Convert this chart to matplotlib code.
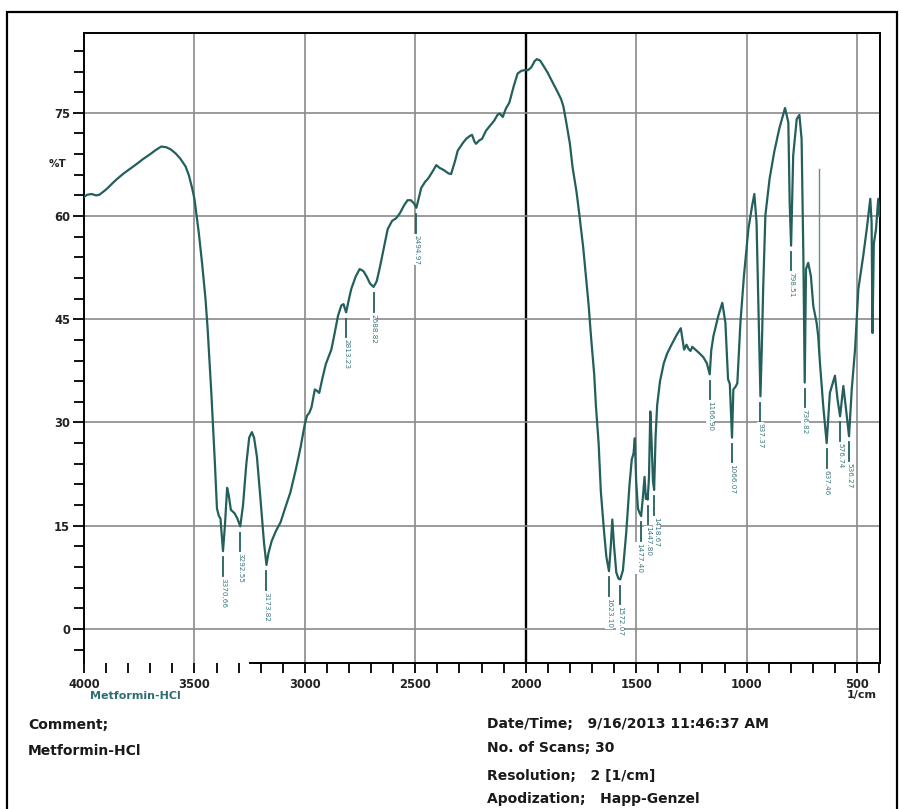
import matplotlib
matplotlib.use("Agg")
import matplotlib.pyplot as plt
import matplotlib.transforms as mtransforms
from matplotlib.patches import Rectangle
from matplotlib.ticker import MultipleLocator, FixedLocator
import numpy as np

# ---------------- data ----------------
wavenumber = [
    4000, 3985, 3965, 3945, 3930, 3910, 3895, 3870, 3850, 3820, 3790, 3760, 3736,
    3700, 3675, 3650, 3628, 3608, 3585, 3563, 3540, 3525, 3510, 3500, 3490, 3480,
    3465, 3450, 3440, 3423, 3408, 3398, 3390, 3382, 3376, 3370.66, 3362, 3352,
    3345, 3335, 3318, 3305, 3292.55, 3280, 3265, 3252, 3240, 3230, 3217, 3200,
    3185, 3173.82, 3165, 3150, 3130, 3110, 3090, 3066, 3040, 3020, 3000, 2990,
    2980, 2970, 2955, 2945, 2935, 2920, 2905, 2880, 2865, 2850, 2835, 2825,
    2813.23, 2800, 2790, 2770, 2752, 2735, 2720, 2705, 2688.82, 2675, 2662, 2645,
    2625, 2605, 2586, 2570, 2550, 2535, 2520, 2505, 2494.97, 2485, 2473, 2455,
    2443, 2425, 2405, 2390, 2372, 2350, 2338, 2320, 2308, 2285, 2270, 2255, 2243,
    2232, 2225, 2210, 2198, 2180, 2160, 2142, 2128, 2118, 2104, 2090, 2074, 2055,
    2037, 2020, 2006, 1990, 1975, 1960, 1950, 1935, 1923, 1900, 1878, 1860, 1840,
    1830, 1818, 1800, 1788, 1770, 1758, 1740, 1727, 1715, 1705, 1690, 1682, 1670,
    1660, 1645, 1635, 1623.10, 1615, 1608, 1600, 1590, 1580, 1572.07, 1560, 1545,
    1530, 1520, 1512, 1506, 1500, 1492, 1485, 1477.40, 1470, 1462, 1456, 1451,
    1447.80, 1442, 1436, 1430, 1424, 1418.67, 1412, 1405, 1392, 1375, 1360, 1340,
    1317, 1298, 1290, 1283, 1272, 1263, 1254, 1246, 1232, 1215, 1196, 1180,
    1166.90, 1160, 1150, 1128, 1110, 1096, 1084, 1076, 1066.07, 1060, 1050, 1042,
    1028, 1012, 992, 975, 965, 955, 945, 937.37, 931, 925, 915, 896, 875, 852,
    826, 811, 805, 798.51, 789, 773, 761, 751, 743, 736.82, 731, 721, 709, 698,
    683, 676, 668, 653, 637.46, 623, 612, 600, 588, 576.74, 562, 550, 536.27, 524,
    509, 494, 472, 456, 440, 434, 430, 424, 414, 404, 398,
]
transmittance = [
    62.8, 63.1, 63.2, 63.0, 63.1, 63.6, 64.0, 64.8, 65.4, 66.2, 66.9, 67.6, 68.2,
    69.0, 69.6, 70.1, 70.0, 69.7, 69.1, 68.3, 67.2, 65.9, 64.0, 62.5, 60.0, 57.5,
    53.0, 48.0, 43.5, 34.0, 24.5, 17.5, 16.5, 16.0, 13.5, 11.3, 15.0, 20.5,
    19.5, 17.3, 16.8, 16.0, 14.9, 18.0, 24.0, 27.8, 28.6, 27.8, 25.0, 18.5,
    12.5, 9.3, 11.0, 12.8, 14.3, 15.5, 17.5, 19.8, 23.3, 26.3, 29.8, 31.0,
    31.4, 32.2, 34.8, 34.6, 34.3, 36.5, 38.5, 40.6, 43.0, 45.5, 47.0, 47.2,
    46.0, 48.0, 49.4, 51.2, 52.3, 52.0, 51.2, 50.2, 49.7, 50.5, 52.3, 55.0,
    58.1, 59.3, 59.7, 60.4, 61.6, 62.3, 62.3, 61.8, 61.2, 62.5, 64.1, 65.0,
    65.4, 66.3, 67.4, 67.0, 66.7, 66.2, 66.1, 68.0, 69.5, 70.6, 71.2, 71.6, 71.8,
    70.8, 70.5, 71.0, 71.2, 72.4, 73.2, 73.9, 74.7, 74.9, 74.4, 75.6, 76.5, 78.8,
    80.7, 81.1, 81.2, 81.2, 81.6, 82.5, 82.8, 82.6, 82.0, 80.8, 79.4, 78.3, 77.0,
    76.0, 73.9, 70.5, 67.1, 63.5, 60.4, 55.5, 51.0, 47.0, 42.7, 37.0, 32.3, 27.0,
    20.0, 14.0, 10.5, 8.4, 12.0, 15.9, 12.0, 8.2, 7.3, 7.2, 8.5, 14.0,
    21.0, 24.6, 25.5, 27.7, 21.5, 17.5, 16.9, 16.4, 19.0, 22.1, 18.9, 19.5,
    18.8, 22.0, 31.6, 27.0, 21.5, 20.2, 28.0, 32.5, 36.0, 38.6, 40.0, 41.3,
    42.7, 43.7, 42.0, 40.6, 41.3, 40.7, 40.4, 41.0, 40.6, 40.1, 39.5, 38.6,
    37.0, 40.5, 42.6, 45.5, 47.4, 44.5, 36.3, 35.6, 27.8, 34.8, 35.2, 35.7,
    44.5, 51.3, 58.1, 61.5, 63.2, 59.1, 44.5, 33.8, 41.0, 49.4, 60.1, 65.4, 69.3, 72.7,
    75.7, 73.6, 62.0, 55.7, 68.8, 74.1, 74.7, 71.2, 54.2, 35.8, 52.3, 53.2, 51.3, 46.9,
    44.5, 42.6, 38.7, 32.4, 27.0, 34.3, 35.5, 36.8, 33.3, 30.9, 35.3, 32.0, 28.0, 34.8,
    40.6, 49.4, 54.2, 58.1, 62.5, 59.1, 43.0, 56.0, 58.1, 62.5, 60.0,
]

peak_wn = [3370.66, 3292.55, 3173.82, 2813.23, 2688.82, 2494.97, 1623.10,
           1572.07, 1477.40, 1447.80, 1418.67, 1166.90, 1066.07, 937.37,
           798.51, 736.82, 637.46, 576.74, 536.27]
peak_labels = ["3370.66", "3292.55", "3173.82", "2813.23", "2688.82", "2494.97",
               "1623.10", "1572.07", "1477.40", "1447.80", "1418.67", "1166.90",
               "1066.07", "937.37", "798.51", "736.82", "637.46", "576.74", "536.27"]

x_major = [4000, 3500, 3000, 2500, 2000, 1500, 1000, 500]
x_major_labels = ["4000", "3500", "3000", "2500", "2000", "1500", "1000", "500"]
y_major = [0, 15, 30, 45, 60, 75]
y_major_labels = ["0", "15", "30", "45", "60", "75"]

spike_wn = 671
spike_T = [40.0, 66.8]

footer_left = ["Comment;", "Metformin-HCl"]
footer_right = ["Date/Time;   9/16/2013 11:46:37 AM", "No. of Scans; 30",
                "Resolution;   2 [1/cm]", "Apodization;   Happ-Genzel"]

# ---------------- figure ----------------
W, H = 902, 809
fig = plt.figure(figsize=(W / 100, H / 100), dpi=100)
fig.patch.set_facecolor("white")


def fx(x):
    return x / W


def fy(y):
    return 1 - y / H


ax_left, ax_right, ax_top, ax_bottom = 84, 880, 33, 663
ax = fig.add_axes([fx(ax_left), fy(ax_bottom), (ax_right - ax_left) / W,
                   (ax_bottom - ax_top) / H])
XMIN, XMAX = 4000, 396
YMIN, YMAX = -4.95, 86.6
ax.set_xlim(XMIN, XMAX)
ax.set_ylim(YMIN, YMAX)

curve_color = "#235f5c"
label_color = "#3a7880"

# grid
for v in x_major[1:]:
    ax.axvline(v, color="black" if v == 2000 else "#8a8a8a",
               lw=1.7 if v == 2000 else 1.2, zorder=0.5)
for v in y_major:
    ax.axhline(v, color="#8a8a8a", lw=1.2, zorder=0.5)

# spectrum
ax.plot(wavenumber, transmittance, color=curve_color, lw=1.6, zorder=3,
        solid_joinstyle="round")
ax.plot([spike_wn, spike_wn], spike_T, color="#5f8f8f", lw=1.0, zorder=2.5)

# peak labels (small pixel nudges for the crowded 1480-1410 cluster)
label_dx_px = {"1477.40": -2.5, "1447.80": 0.0, "1418.67": 2.5}
wn_arr = np.array(wavenumber)
t_arr = np.array(transmittance)
for pw, pl in zip(peak_wn, peak_labels):
    tmin = float(np.interp(pw, wn_arr[::-1], t_arr[::-1]))
    ax.plot([pw, pw], [tmin - 0.9, tmin - 3.6], color=curve_color, lw=1.3,
            zorder=2.6)
    off = mtransforms.offset_copy(ax.transData, fig=fig,
                                  x=label_dx_px.get(pl, 0.0), y=0, units="dots")
    ax.text(pw, tmin - 3.9, pl, rotation=270, ha="center", va="top",
            fontsize=5.2, color=label_color, family="DejaVu Sans", zorder=2,
            transform=off,
            bbox=dict(facecolor="white", edgecolor="none", pad=0.6))

# spines
for s in ["left", "top", "right"]:
    ax.spines[s].set_linewidth(1.4)
    ax.spines[s].set_color("black")
ax.spines["bottom"].set_visible(False)
baseline_start = 3250
ax.plot([baseline_start, XMAX], [YMIN, YMIN], color="black", lw=1.4,
        clip_on=False, zorder=4)

# ticks
ax.xaxis.set_major_locator(FixedLocator(x_major))
ax.set_xticklabels(x_major_labels)
ax.xaxis.set_minor_locator(MultipleLocator(100))
ax.yaxis.set_major_locator(FixedLocator(y_major))
ax.set_yticklabels(y_major_labels)
ax.yaxis.set_minor_locator(MultipleLocator(3))
ax.tick_params(axis="x", which="both", direction="out", length=7, width=1.3,
               pad=4, top=False)
ax.tick_params(axis="y", which="major", direction="out", length=8, width=1.3,
               pad=2, right=False)
ax.tick_params(axis="y", which="minor", direction="out", length=7, width=1.3,
               right=False)
for lab in ax.get_xticklabels() + ax.get_yticklabels():
    lab.set_fontfamily("DejaVu Sans")
    lab.set_fontweight("bold")
    lab.set_fontsize(8.3)
    lab.set_color("#222222")

trans = mtransforms.blended_transform_factory(ax.transAxes, ax.transData)
ax.text(-0.022, 67.5, "%T", transform=trans, ha="right", va="center",
        fontsize=7.5, fontweight="bold", family="DejaVu Sans", color="#222222")

fig.text(fx(135), fy(696), "Metformin-HCl", ha="center", va="center",
         fontsize=8, fontweight="bold", family="DejaVu Sans", color="#2f6f72")
fig.text(fx(862), fy(695), "1/cm", ha="center", va="center",
         fontsize=8, fontweight="bold", family="DejaVu Sans", color="#222222")

# footer
for txt, yy in zip(footer_left, [725, 751]):
    fig.text(fx(28), fy(yy), txt, ha="left", va="center", fontsize=10,
             fontweight="bold", family="DejaVu Sans", color="#1a1a1a")
for txt, yy in zip(footer_right, [724, 748, 776, 799]):
    fig.text(fx(487), fy(yy), txt, ha="left", va="center", fontsize=10,
             fontweight="bold", family="DejaVu Sans", color="#1a1a1a")

# outer frame
fig.add_artist(Rectangle((fx(7), -0.05), (897 - 7) / W, (H - 12) / H + 0.05,
                         transform=fig.transFigure, fill=False, lw=1.6,
                         edgecolor="black"))

fig.savefig("out.png", dpi=100, facecolor="white")
